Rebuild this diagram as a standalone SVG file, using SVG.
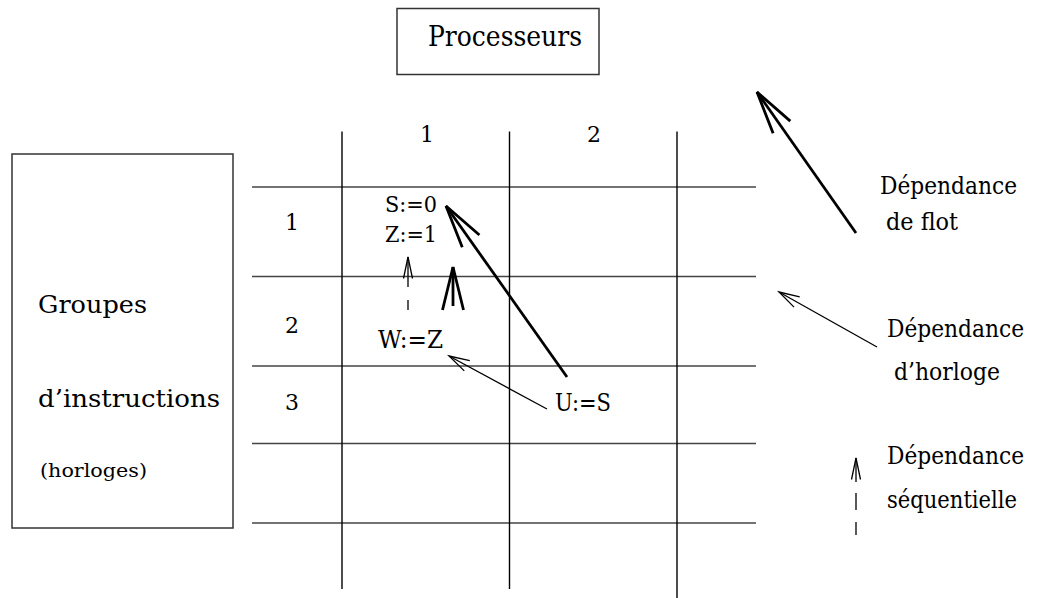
<svg xmlns="http://www.w3.org/2000/svg" width="1043" height="598" viewBox="0 0 1043 598">
<style>
  .t { fill: #000; }
  .box { fill: none; stroke: #333; stroke-width: 1.5; }
  .hline { stroke: #444; stroke-width: 1.6; }
  .vline { stroke: #000; stroke-width: 1.4; }
  .flow { stroke: #000; stroke-width: 2.8; fill: none; marker-end: url(#flowHead); }
  .clock { stroke: #000; stroke-width: 1.3; fill: none; marker-end: url(#clockHead); }
  .seq { stroke: #000; stroke-width: 1.3; fill: none; marker-end: url(#seqHead); }
</style>
<defs>
  <marker id="flowHead" markerUnits="userSpaceOnUse" viewBox="-50 -15 55 30" refX="0" refY="0" markerWidth="55" markerHeight="30" orient="auto" overflow="visible">
    <path d="M -43 -10.5 L 0 0 L -43 10.5" fill="none" stroke="#000" stroke-width="2.8" stroke-linejoin="miter"/>
  </marker>
  <marker id="clockHead" markerUnits="userSpaceOnUse" viewBox="-25 -8 30 16" refX="0" refY="0" markerWidth="30" markerHeight="16" orient="auto" overflow="visible">
    <path d="M -20.5 -5.8 L 0 0 L -20.5 5.8" fill="none" stroke="#000" stroke-width="1.3"/>
  </marker>
  <marker id="seqHead" markerUnits="userSpaceOnUse" viewBox="-25 -8 30 16" refX="0" refY="0" markerWidth="30" markerHeight="16" orient="auto" overflow="visible">
    <path d="M -21.5 -4.5 L 0 0 L -21.5 4.5" fill="none" stroke="#000" stroke-width="1.3"/>
  </marker>
</defs>
<rect width="1043" height="598" fill="#fff"/>

<g font-family="'DejaVu Serif', 'Liberation Serif', serif">
<g id="processeurs">
  <rect class="box" x="397" y="8.5" width="202" height="66"/>
  <text class="t" x="428" y="46" font-size="28" textLength="154" lengthAdjust="spacingAndGlyphs">Processeurs</text>
</g>

<g id="groupes">
  <rect class="box" x="12" y="154" width="221" height="374"/>
  <text class="t" x="38" y="313" font-size="25" textLength="109" lengthAdjust="spacingAndGlyphs">Groupes</text>
  <text class="t" x="38" y="407" font-size="25" textLength="182" lengthAdjust="spacingAndGlyphs">d’instructions</text>
  <text class="t" x="40" y="477" font-size="19" textLength="107" lengthAdjust="spacingAndGlyphs">(horloges)</text>
</g>

<g id="grid">
  <line class="hline" x1="252" y1="187" x2="756" y2="187"/>
  <line class="hline" x1="252" y1="276.5" x2="756" y2="276.5"/>
  <line class="hline" x1="252" y1="366" x2="756" y2="366"/>
  <line class="hline" x1="252" y1="443.5" x2="756" y2="443.5"/>
  <line class="hline" x1="252" y1="523" x2="756" y2="523"/>
  <line class="vline" x1="342" y1="131.5" x2="342" y2="589"/>
  <line class="vline" x1="509.5" y1="131.5" x2="509.5" y2="589"/>
  <line class="vline" x1="677" y1="131.5" x2="677" y2="598"/>
</g>

<g id="headers" font-size="22" text-anchor="middle">
  <text class="t" x="427" y="142">1</text>
  <text class="t" x="594" y="142">2</text>
  <text class="t" x="292" y="230">1</text>
  <text class="t" x="292" y="333">2</text>
  <text class="t" x="292" y="410">3</text>
</g>

<g id="node-s0"><text class="t" font-size="22" x="385" y="212" textLength="52" lengthAdjust="spacingAndGlyphs">S:=0</text></g>
<g id="node-z1"><text class="t" font-size="22" x="385" y="242" textLength="52" lengthAdjust="spacingAndGlyphs">Z:=1</text></g>
<g id="node-wz"><text class="t" font-size="24" x="378" y="348" textLength="65" lengthAdjust="spacingAndGlyphs">W:=Z</text></g>
<g id="node-us"><text class="t" font-size="25" x="555" y="411" textLength="56" lengthAdjust="spacingAndGlyphs">U:=S</text></g>

<g id="legend-flot" font-size="24">
  <text class="t" x="880" y="194" textLength="137" lengthAdjust="spacingAndGlyphs">Dépendance</text>
  <text class="t" x="886" y="230" textLength="72" lengthAdjust="spacingAndGlyphs">de flot</text>
</g>
<g id="legend-horloge" font-size="24">
  <text class="t" x="887" y="337" textLength="137" lengthAdjust="spacingAndGlyphs">Dépendance</text>
  <text class="t" x="894" y="380" textLength="106" lengthAdjust="spacingAndGlyphs">d’horloge</text>
</g>
<g id="legend-sequentielle" font-size="24">
  <text class="t" x="887" y="464" textLength="137" lengthAdjust="spacingAndGlyphs">Dépendance</text>
  <text class="t" x="887" y="508" textLength="130" lengthAdjust="spacingAndGlyphs">séquentielle</text>
</g>
</g>

<g id="connectors">
  <line class="flow" x1="567" y1="377" x2="446" y2="206"/>
  <line class="flow" x1="453" y1="306" x2="453" y2="267"/>
  <line class="clock" x1="547" y1="409" x2="449" y2="356"/>
  <line class="seq" x1="408" y1="310" x2="408" y2="257" stroke-dasharray="10 13 30"/>
  <line class="flow" x1="856" y1="233" x2="757" y2="92"/>
  <line class="clock" x1="877" y1="347" x2="779" y2="292"/>
  <line class="seq" x1="856" y1="535" x2="856" y2="458" stroke-dasharray="13 12 17 11 24"/>
</g>
</svg>
